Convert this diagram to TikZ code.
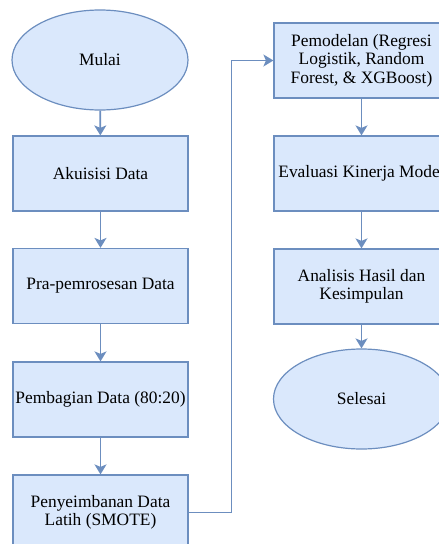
\documentclass[tikz,border=0pt]{standalone}
\usepackage{fontspec}
\setmainfont{Liberation Serif}
\usetikzlibrary{shapes.geometric,arrows.meta}
\definecolor{boxfill}{HTML}{DAE8FC}
\definecolor{boxline}{HTML}{6C8EBF}
\tikzset{
  stepbox/.style={draw=boxline, fill=boxfill, line width=1.2pt, minimum width=175pt, minimum height=75pt, align=center, inner sep=2pt, font=\fontsize{17.4}{18.5}\selectfont, text=black},
  termbox/.style={ellipse, draw=boxline, fill=boxfill, line width=1.2pt, minimum width=176pt, minimum height=100pt, align=center, inner sep=0pt, font=\fontsize{17.4}{18.5}\selectfont, text=black},
  flow/.style={draw=boxline, line width=1.6pt, -{Stealth[length=10pt,width=12pt,inset=2.5pt]}}
}
\begin{document}
\begin{tikzpicture}[x=1pt,y=-1pt]
\useasboundingbox (0,0) rectangle (439,544);
\clip (0,0) rectangle (439,544);
\node[termbox] (mulai) at (100,60) {Mulai};
\node[stepbox] (akuisisi) at (100.5,173.5) {Akuisisi Data};
\node[stepbox] (pra) at (100.5,286) {Pra-pemrosesan Data};
\node[stepbox] (pembagian) at (100.5,399.5) {Pembagian Data (80:20)};
\node[stepbox] (penyeimbanan) at (100.5,512.5) {Penyeimbanan Data\\Latih (SMOTE)};
\node[stepbox] (pemodelan) at (361.5,60.5) {Pemodelan (Regresi\\Logistik, Random\\Forest, \& XGBoost)};
\node[stepbox] (evaluasi) at (361.5,173.5) {Evaluasi Kinerja Model};
\node[stepbox] (analisis) at (361.5,286.5) {Analisis Hasil dan\\Kesimpulan};
\node[termbox] (selesai) at (361.5,399) {Selesai};
\draw[flow] (mulai) -- (akuisisi);
\draw[flow] (akuisisi) -- (pra);
\draw[flow] (pra) -- (pembagian);
\draw[flow] (pembagian) -- (penyeimbanan);
\draw[flow] (penyeimbanan.east) -- ++(43,0) |- (pemodelan.west);
\draw[flow] (pemodelan) -- (evaluasi);
\draw[flow] (evaluasi) -- (analisis);
\draw[flow] (analisis) -- (selesai);
\end{tikzpicture}
\end{document}
